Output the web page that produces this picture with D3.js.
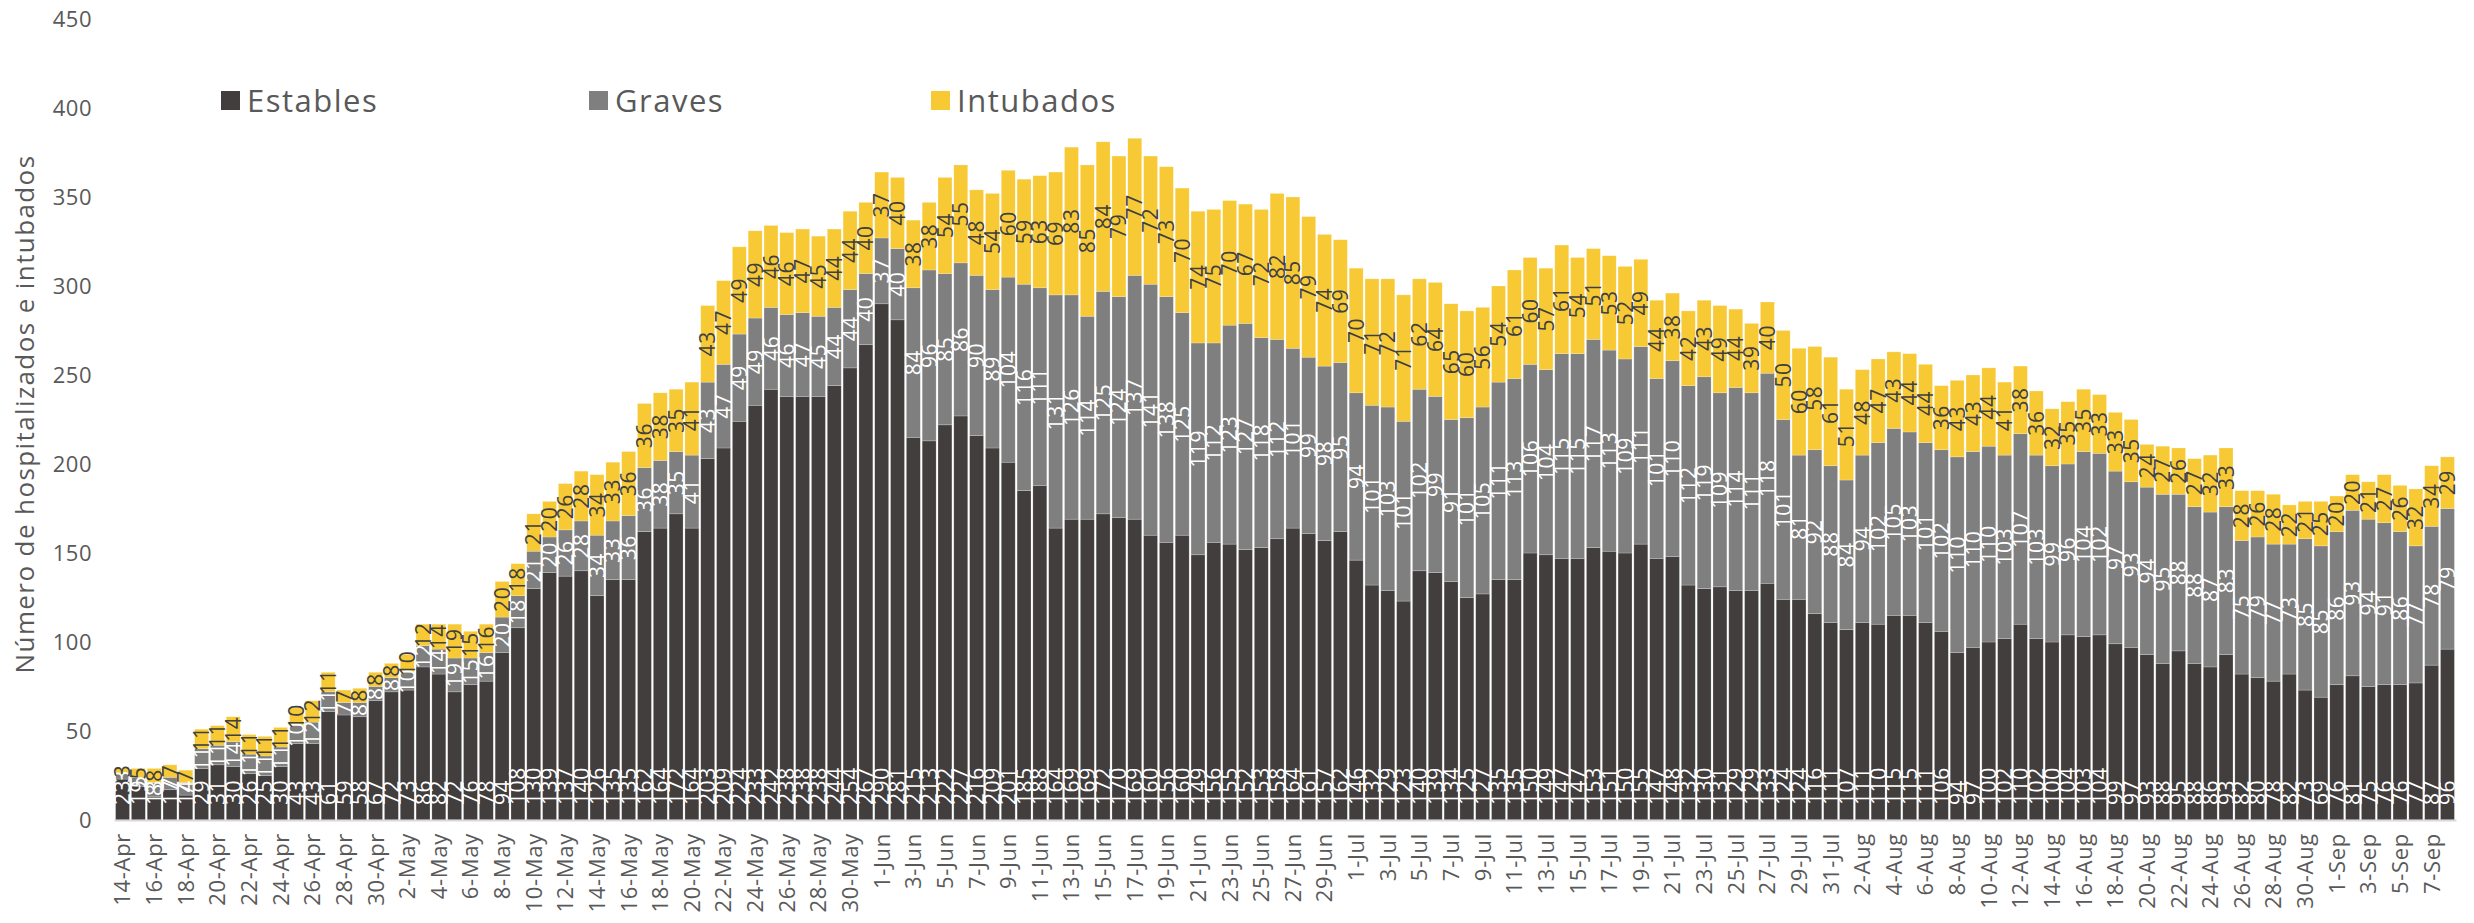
<!DOCTYPE html>
<html>
<head>
<meta charset="utf-8">
<script src="https://cdn.jsdelivr.net/npm/d3@7"></script>
<style>
  body { margin: 0; background: #fff; }
  svg text { font-family: "Open Sans", sans-serif; }
</style>
</head>
<body>
<script>
// fechas (categorias del eje x)
var fechas = [
  "14-Apr","15-Apr","16-Apr","17-Apr","18-Apr","19-Apr","20-Apr","21-Apr","22-Apr","23-Apr","24-Apr","25-Apr","26-Apr","27-Apr","28-Apr","29-Apr","30-Apr",
  "1-May","2-May","3-May","4-May","5-May","6-May","7-May","8-May","9-May","10-May","11-May","12-May","13-May","14-May","15-May","16-May",
  "17-May","18-May","19-May","20-May","21-May","22-May","23-May","24-May","25-May","26-May","27-May","28-May","29-May","30-May","31-May",
  "1-Jun","2-Jun","3-Jun","4-Jun","5-Jun","6-Jun","7-Jun","8-Jun","9-Jun","10-Jun","11-Jun","12-Jun","13-Jun","14-Jun","15-Jun",
  "16-Jun","17-Jun","18-Jun","19-Jun","20-Jun","21-Jun","22-Jun","23-Jun","24-Jun","25-Jun","26-Jun","27-Jun","28-Jun","29-Jun","30-Jun",
  "1-Jul","2-Jul","3-Jul","4-Jul","5-Jul","6-Jul","7-Jul","8-Jul","9-Jul","10-Jul","11-Jul","12-Jul","13-Jul","14-Jul","15-Jul","16-Jul",
  "17-Jul","18-Jul","19-Jul","20-Jul","21-Jul","22-Jul","23-Jul","24-Jul","25-Jul","26-Jul","27-Jul","28-Jul","29-Jul","30-Jul","31-Jul",
  "1-Aug","2-Aug","3-Aug","4-Aug","5-Aug","6-Aug","7-Aug","8-Aug","9-Aug","10-Aug","11-Aug","12-Aug","13-Aug","14-Aug","15-Aug","16-Aug",
  "17-Aug","18-Aug","19-Aug","20-Aug","21-Aug","22-Aug","23-Aug","24-Aug","25-Aug","26-Aug","27-Aug","28-Aug","29-Aug","30-Aug","31-Aug",
  "1-Sep","2-Sep","3-Sep","4-Sep","5-Sep","6-Sep","7-Sep","8-Sep"
];

var estables = [
  23,19,13,17,14,29,31,30,26,25,30,43,43,61,59,58,67,
  72,73,86,82,72,76,78,94,108,130,139,137,140,126,135,135,162,164,172,164,203,209,224,233,242,238,238,238,244,254,267,
  290,281,215,213,222,227,216,209,201,185,188,164,169,169,172,170,169,160,156,160,149,156,155,152,153,158,164,161,157,162,
  146,132,129,123,140,139,134,125,127,135,135,150,149,147,147,153,151,150,155,147,148,132,130,131,129,129,133,124,124,116,111,
  107,111,110,115,115,111,106,94,97,100,102,110,102,100,104,103,104,99,97,93,88,95,88,86,93,82,80,78,82,73,69,
  76,81,75,76,76,77,87,96
];

var graves = [
  3,5,8,7,7,11,11,14,11,11,11,10,12,11,7,8,8,
  8,10,12,14,19,15,16,20,18,21,20,26,28,34,33,36,36,38,35,41,43,47,49,49,46,46,47,45,44,44,40,
  37,40,84,96,85,86,90,89,104,116,111,131,126,114,125,124,137,141,138,125,119,112,123,127,118,112,101,99,98,95,
  94,101,103,101,102,99,91,101,105,111,113,106,104,115,115,117,113,109,111,101,110,112,119,109,114,111,118,101,81,92,88,
  84,94,102,105,103,101,102,110,110,110,103,107,103,99,96,104,102,97,93,94,95,88,88,87,83,75,79,77,73,85,85,
  86,93,94,91,86,77,78,79
];

var intubados = [
  3,5,8,7,7,11,11,14,11,11,11,10,12,11,7,8,8,
  8,10,12,14,19,15,16,20,18,21,20,26,28,34,33,36,36,38,35,41,43,47,49,49,46,46,47,45,44,44,40,
  37,40,38,38,54,55,48,54,60,59,63,69,83,85,84,79,77,72,73,70,74,75,70,67,72,82,85,79,74,69,
  70,71,72,71,62,64,65,60,56,54,61,60,57,61,54,51,53,52,49,44,38,42,43,49,44,39,40,50,60,58,61,
  51,48,47,43,44,44,36,43,43,44,41,38,36,32,35,35,33,33,35,24,27,26,27,32,33,28,26,28,22,21,25,
  20,20,21,27,26,32,34,29
];

var yTicks = [0, 50, 100, 150, 200, 250, 300, 350, 400, 450];
var series = ["Estables", "Graves", "Intubados"];
var colores = { Estables: "#423e3d", Graves: "#7f7f7f", Intubados: "#f7c935" };

var W = 2474, H = 923;

var svg = d3.select("body")
  .append("svg")
    .attr("width", W)
    .attr("height", H);

var filas = fechas.map(function (f, i) {
  return { fecha: f, Estables: estables[i], Graves: graves[i], Intubados: intubados[i] };
});
var pila = d3.stack().keys(series)(filas);

var x = d3.scaleBand()
  .domain(fechas)
  .range([114, 2456])
  .paddingInner(0.12)
  .paddingOuter(0.1);

var y = d3.scaleLinear()
  .domain([0, 450])
  .range([820, 19]);

// barras apiladas
var capas = svg.selectAll("g.capa")
  .data(pila)
  .enter()
  .append("g")
    .attr("class", "capa")
    .attr("fill", function (d) { return colores[d.key]; });

capas.selectAll("rect")
  .data(function (d) { return d; })
  .enter()
  .append("rect")
    .attr("x", function (d) { return x(d.data.fecha); })
    .attr("y", function (d) { return y(d[1]); })
    .attr("width", x.bandwidth())
    .attr("height", function (d) { return y(d[0]) - y(d[1]); })
    .attr("stroke", "#ffffff")
    .attr("stroke-opacity", 0.35)
    .attr("stroke-width", 0.6);

// etiquetas de datos (rotadas)
pila.forEach(function (s) {
  svg.append("g")
    .selectAll("text")
    .data(s)
    .enter()
    .append("text")
      .attr("transform", function (d) {
        var cx = x(d.data.fecha) + x.bandwidth() / 2;
        var cy = s.key == "Estables" ? y(0) - 15 : (y(d[0]) + y(d[1])) / 2;
        return "translate(" + cx + "," + cy + ") rotate(-90)";
      })
      .attr("text-anchor", s.key == "Estables" ? "start" : "middle")
      .attr("dy", "0.36em")
      .style("font-size", "21px")
      .style("letter-spacing", "0.6px")
      .attr("fill", s.key == "Intubados" ? "#404040" : "#ffffff")
      .text(function (d) { return d[1] - d[0]; });
});

// eje x
var ejeX = svg.append("g")
  .attr("transform", "translate(0," + y(0) + ")")
  .call(d3.axisBottom(x)
    .tickValues(fechas.filter(function (f, i) { return i % 2 == 0; }))
    .tickSize(0));

ejeX.attr("font-family", null).attr("font-size", null);
ejeX.select(".domain").attr("stroke", "#d9d9d9").attr("stroke-width", 2);
ejeX.selectAll("text")
  .attr("transform", "rotate(-90)")
  .attr("text-anchor", "end")
  .attr("x", -13)
  .attr("y", 0)
  .attr("dy", "0.36em")
  .style("font-size", "22px")
  .style("letter-spacing", "0.7px")
  .attr("fill", "#595959");

// eje y
var ejeY = svg.append("g")
  .attr("transform", "translate(92,0)")
  .call(d3.axisLeft(y).tickValues(yTicks).tickSize(0).tickPadding(0));

ejeY.attr("font-family", null).attr("font-size", null);
ejeY.select(".domain").remove();
ejeY.selectAll("text")
  .style("font-size", "22px")
  .style("letter-spacing", "0.5px")
  .attr("fill", "#595959");

svg.append("text")
  .attr("transform", "translate(25,414) rotate(-90)")
  .attr("text-anchor", "middle")
  .attr("dy", "0.36em")
  .style("font-size", "26px")
  .style("letter-spacing", "1.4px")
  .attr("fill", "#595959")
  .text("Número de hospitalizados e intubados");

// leyenda
var posLeyenda = [221, 589, 931];
var leyenda = svg.selectAll("g.leyenda")
  .data(series)
  .enter()
  .append("g")
    .attr("class", "leyenda")
    .attr("transform", function (d, i) { return "translate(" + posLeyenda[i] + ",91)"; });

leyenda.append("rect")
  .attr("width", 19)
  .attr("height", 19)
  .attr("fill", function (d) { return colores[d]; });

leyenda.append("text")
  .attr("x", 26)
  .attr("y", 10)
  .attr("dy", "0.36em")
  .style("font-size", "31px")
  .style("letter-spacing", "1.5px")
  .attr("fill", "#595959")
  .text(function (d) { return d; });
</script>
</body>
</html>
